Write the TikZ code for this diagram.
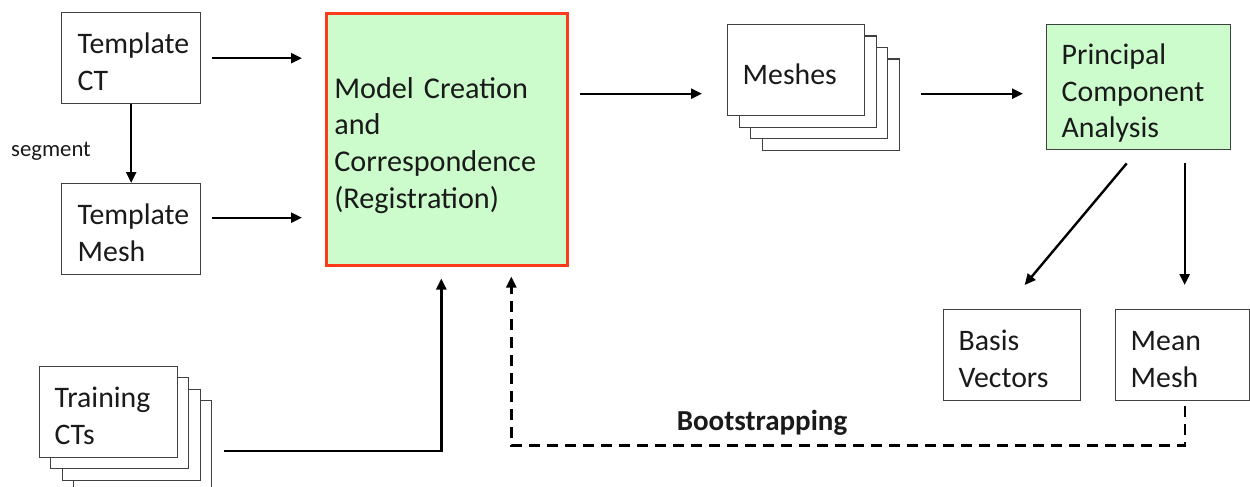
\documentclass[tikz,border=0pt]{standalone}
\usepackage{fontspec}
\setmainfont{Carlito}
\usetikzlibrary{arrows.meta,calc}
\definecolor{boxgreen}{HTML}{CCFCCC}
\definecolor{boxred}{HTML}{FF3A1A}
\definecolor{edge}{HTML}{404040}
\definecolor{ink}{HTML}{1A1A1A}
\begin{document}
\begin{tikzpicture}[x=1pt,y=-1pt,
  box/.style={draw=edge, line width=1.4pt, fill=white, rectangle, anchor=north west,
    align=left, inner xsep=15pt, inner ysep=0pt, text=ink,
    font=\fontsize{29.8}{36.7}\selectfont},
  txt/.style={execute at begin node={\rule{0pt}{36pt}},
    execute at end node={\rule[-8.3pt]{0pt}{8.3pt}}},
  greenbox/.style={box, fill=boxgreen},
  arr/.style={line width=2.4pt, draw=black, -{Triangle[length=11pt,width=10pt]}},
  dasharr/.style={arr, dash pattern=on 11pt off 7pt},
  lbl/.style={text=ink, inner sep=0pt}
]
\clip (0,0) rectangle (1250,487);
\fill[white] (0,0) rectangle (1250,487);

% Template boxes
\node[box, txt, inner xsep=16pt, text width=107pt, minimum height=91pt] (tct) at (61,12) {Template\\CT};
\node[box, txt, inner xsep=16pt, text width=107pt, minimum height=91pt] (tmesh) at (61,183) {Template\\Mesh};
\node[lbl, font=\fontsize{22.7}{26}\selectfont] (seg) at (51,151) {segment};

% Model box
\node[greenbox, txt, draw=boxred, line width=2.6pt, inner xsep=8pt, text width=225pt, minimum height=252pt,
  font=\fontsize{30.2}{36.7}\selectfont] (model) at (325,12)
  {Model Creation\\and\\Correspondence\\(Registration)};

% Meshes stack
\node[box, text width=107pt, minimum height=91pt] (mesh4) at (761.5,58.5) {};
\node[box, text width=107pt, minimum height=91pt] (mesh3) at (750,47) {};
\node[box, text width=107pt, minimum height=91pt] (mesh2) at (738.5,35.5) {};
\node[box, txt, text width=107pt, minimum height=91pt] (mesh1) at (727,24) {Meshes};

% PCA
\node[greenbox, txt, text width=154pt, minimum height=125pt] (pca) at (1046,24) {Principal\\Component\\Analysis};

% Outputs
\node[box, txt, text width=107pt, minimum height=91pt] (basis) at (943,309) {Basis\\Vectors};
\node[box, txt, text width=104pt, minimum height=91pt] (mean) at (1115,309) {Mean\\Mesh};

% Training stack
\node[box, text width=108pt, minimum height=91pt] (t4) at (73,400) {};
\node[box, text width=108pt, minimum height=91pt] (t3) at (62,389) {};
\node[box, text width=108pt, minimum height=91pt] (t2) at (50,377) {};
\node[box, txt, text width=108pt, minimum height=91pt] (t1) at (39,366) {Training\\CTs};

\node[lbl, font=\bfseries\fontsize{29}{32}\selectfont] (boot) at (762,423) {Bootstrapping};

% Connectors
\draw[arr] ($(tct.east)+(11,0)$) -- ($(tct.east -| model.west)+(-23,0)$);
\draw[arr] ($(tmesh.east)+(11,-11.5)$) -- ($(tmesh.east -| model.west)+(-23,-11.5)$);
\draw[arr] (tct.south) -- (tmesh.north);

\coordinate (m1) at ($(mesh1.west)+(-25,23.5)$);
\draw[arr] ($(model.east |- m1)+(11,0)$) -- (m1);

\coordinate (p1) at ($(pca.west)+(-23,6.5)$);
\draw[arr] ($(mesh4.east |- p1)+(21.5,0)$) -- (p1);

\draw[arr] ($(pca.south)+(-12,13)$) -- ($(basis.north)+(12.5,-24)$);
\draw[arr] ($(pca.south)+(46,13)$) -- ($(mean.north)+(2,-24)$);

\coordinate (b1) at ($(mean.south)+(2,44)$);
\draw[dasharr] ($(mean.south)+(2,5)$) -- (b1) -| ($(model.south)+(64.5,10)$);

\draw[arr] ($(t4.east)+(12,4.5)$) -| ($(model.south)+(-5.5,12)$);
\end{tikzpicture}
\end{document}
